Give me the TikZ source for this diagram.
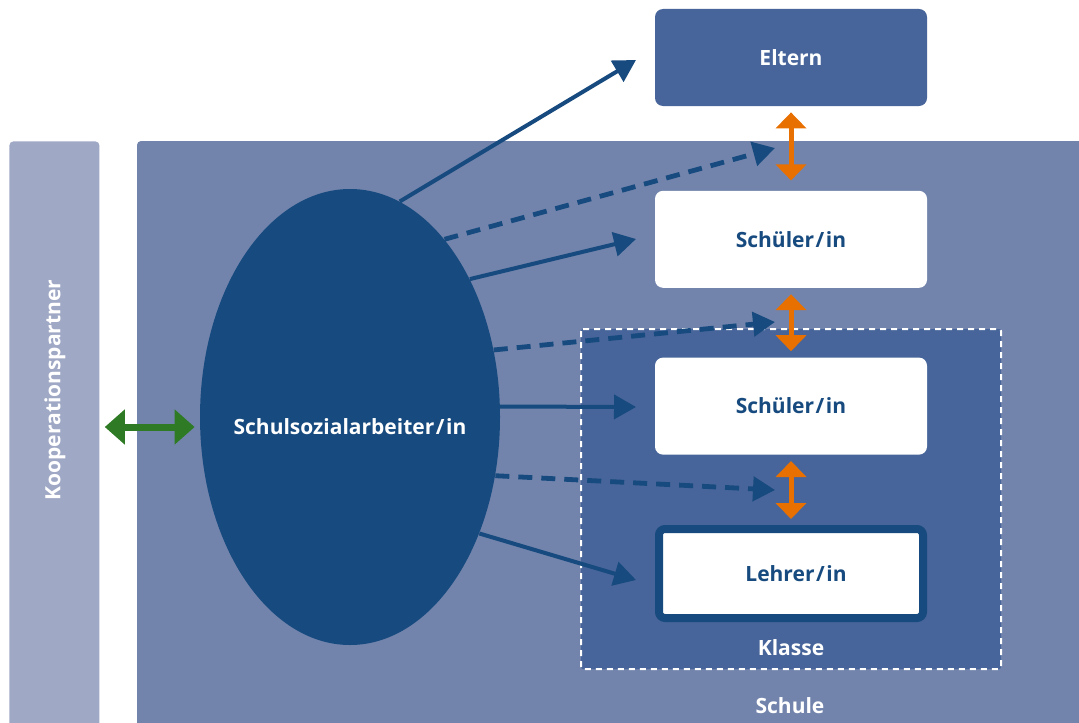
\documentclass[tikz,border=0pt]{standalone}
\usepackage{fontspec}
\setmainfont{Open Sans}
\usetikzlibrary{arrows.meta}
\usetikzlibrary{shapes.geometric}
\usetikzlibrary{positioning}

\definecolor{kpgrau}{HTML}{9FA8C5}
\definecolor{schulblau}{HTML}{7284AC}
\definecolor{mittelblau}{HTML}{47659A}
\definecolor{dunkelblau}{HTML}{174A7E}
\definecolor{pfeilorange}{HTML}{E87000}
\definecolor{pfeilgruen}{HTML}{2E7A25}

\newcommand{\schraeg}{\kern0.8pt/\kern0.8pt}

\begin{document}
\begin{tikzpicture}[x=0.5pt,y=-0.5pt,
  every node/.style={font=\fontsize{10.5}{13}\selectfont\bfseries},
  box/.style={rectangle,rounded corners=4pt,minimum width=136pt,minimum height=48.5pt,inner sep=0pt},
  pfeil/.style={draw=dunkelblau,line width=2pt,-{Triangle[length=11pt,width=12pt]}},
  strichpfeil/.style={pfeil,line width=2.4pt,dash pattern=on 7pt off 4.5pt},
  opfeil/.style={draw=pfeilorange,line width=2.5pt,{Triangle[length=8pt,width=15pt]}-{Triangle[length=8pt,width=15pt]}},
  gpfeil/.style={draw=pfeilgruen,line width=3.5pt,{Triangle[length=10pt,width=17pt]}-{Triangle[length=10pt,width=17pt]}}]

\clip (0,0) rectangle (1079,722);

% Flaechen
\node[fill=kpgrau,rounded corners=2pt,minimum width=45pt,minimum height=320pt,inner sep=0pt,anchor=north west] (kp) at (9,141) {};
\node[rotate=90,text=white] (kplabel) at (55,390) {Kooperationspartner};
\fill[schulblau,rounded corners=2pt] (137,141) rectangle (1100,760);
\node[text=white] (schule) at (790,706) {Schule};
\draw[white,line width=1pt,dash pattern=on 3pt off 2.5pt,fill=mittelblau,rounded corners=1pt] (581,329) rectangle (1001,669);
\node[text=white] (klasse) at (791,648) {Klasse};

% Kaesten
\node[box,fill=mittelblau,text=white] (eltern) at (791,57.5) {Eltern};
\node[box,fill=white,text=dunkelblau,below=42pt of eltern] (schueler1) {Schüler\schraeg in};
\node[box,fill=white,text=dunkelblau,below=34.5pt of schueler1] (schueler2) {Schüler\schraeg in};
\node[box,fill=white,draw=dunkelblau,line width=4pt,rounded corners=3pt,minimum width=132pt,minimum height=44.5pt,text=dunkelblau,below=35pt of schueler2] (lehrer) {\hspace{5pt}Lehrer\schraeg in};

\node[ellipse,fill=dunkelblau,minimum width=150pt,minimum height=228pt,inner sep=0pt,
  label={[text=white,yshift=-5pt]center:Schulsozialarbeiter\schraeg in}] (sa) at (350,417) {};

% Pfeilenden
\coordinate (zE) at (636,60);
\coordinate (zS1) at (636,239);
\coordinate (zS2) at (636,407);
\coordinate (zL) at (636,580);
\coordinate (dE) at (775,148);
\coordinate (dS1) at (775,322);
\coordinate (dS2) at (775,490);
\coordinate (gm) at (150,427);

\draw[pfeil] (sa.77) -- (zE);
\draw[pfeil] (sa.49) -- (zS1);
\draw[pfeil] (sa.4) -- (zS2);
\draw[pfeil] (sa.-42) -- (zL);
\draw[strichpfeil] (sa.62) -- (dE);
\draw[strichpfeil] (sa.25) -- (dS1);
\draw[strichpfeil] (sa.-22) -- (dS2);

\draw[opfeil,shorten <=3pt,shorten >=5pt] (eltern) -- (schueler1);
\draw[opfeil,shorten <=3pt,shorten >=3pt] (schueler1) -- (schueler2);
\draw[opfeil,shorten <=3pt,shorten >=3pt] (schueler2) -- (lehrer);

\draw[gpfeil,shorten <=2.5pt,shorten >=2.5pt] (gm -| kp.east) -- (gm -| sa.west);
\end{tikzpicture}
\end{document}
